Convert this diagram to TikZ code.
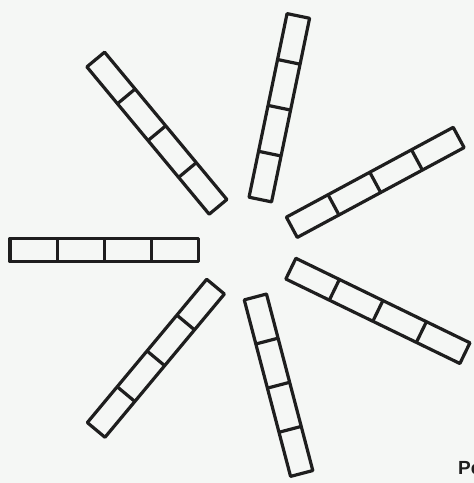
\documentclass[tikz,border=0pt]{standalone}
\usepackage{fontspec}
\setsansfont{Liberation Sans}
\usepackage{xcolor}
\usepackage{tikz}
\definecolor{paper}{RGB}{245,247,245}
\definecolor{ink}{RGB}{30,30,30}

\begin{document}
\begin{tikzpicture}[x=1pt,y=-1pt]
  \fill[paper] (0,0) rectangle (474,483);
  \useasboundingbox (0,0) rectangle (474,483);
  \clip (0,0) rectangle (474,483);
  % inner end x/y, angle, length
  \foreach \x/\y/\a/\l in {260/201/78.3/189, 219/208/129.7/193, 290.5/228/28.3/191,
    289.5/268/-25.9/195, 255/295.5/-75.3/184, 216.5/285.5/230.2/188, 200/250/180/190}{
    \begin{scope}[shift={(\x,\y)}, rotate=\a]
      \draw[ink, line width=3.2pt, line join=round] (1.5,-11.5) rectangle (\l,11.5);
      \foreach \k in {1,2,3}
        \draw[ink, line width=3.2pt] ({1.5+\k*(\l-1.5)/4},-11.5) -- ({1.5+\k*(\l-1.5)/4},11.5);
    \end{scope}
  }
  \node[anchor=base west, inner sep=0, font=\sffamily\bfseries\fontsize{19}{19}\selectfont, ink] at (458,474) {Pe};
\end{tikzpicture}
\end{document}
